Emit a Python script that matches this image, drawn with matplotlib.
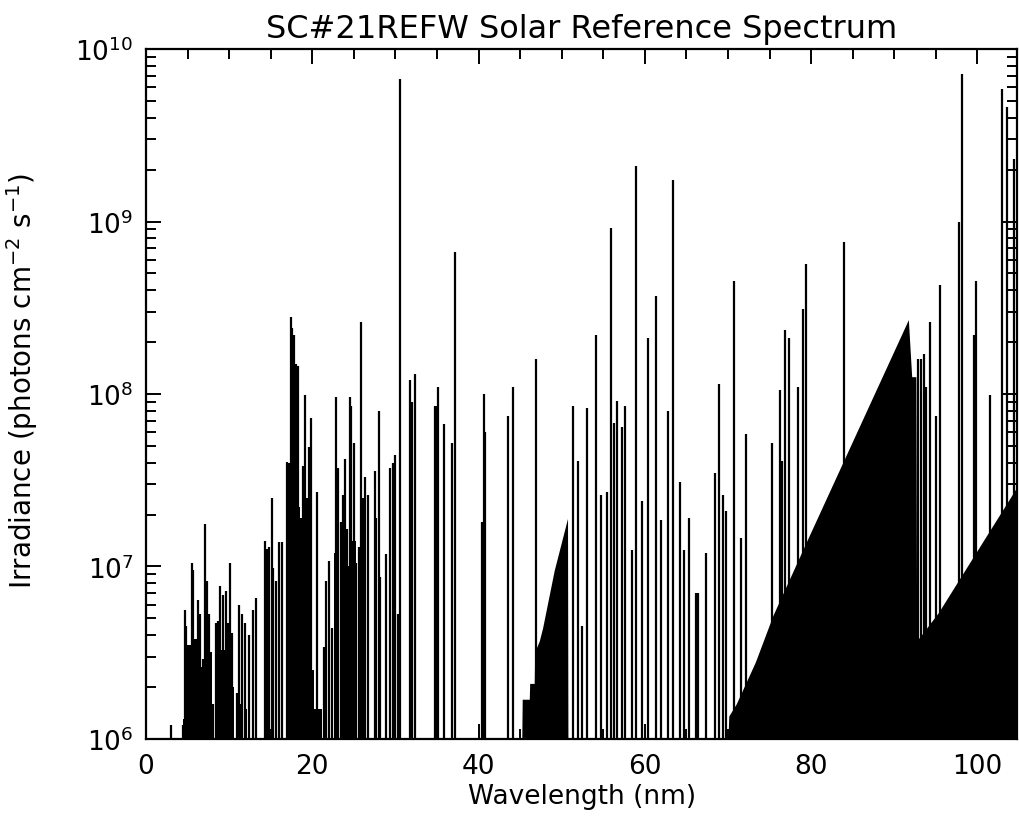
import numpy as np
import matplotlib.pyplot as plt
from matplotlib.ticker import MultipleLocator, LogLocator

# ----------------------------
# Data
# ----------------------------

# emission lines: wavelength (nm) and peak irradiance (photons cm^-2 s^-1)
line_wl = [
    3.0, 4.4, 4.7, 4.8, 5.0, 5.5, 5.7, 6.2, 6.5, 6.8, 7.1, 7.3, 7.6, 8.0,
    8.4, 8.7, 8.9, 9.2, 9.6, 9.9, 10.1, 10.4, 10.9, 11.2, 11.5, 11.9, 12.4,
    12.9, 13.2, 14.3, 14.6, 14.8, 15.1, 15.3, 15.6, 16.0, 16.3,
    17.0, 17.2, 17.4, 17.6, 17.8, 18.0, 18.3, 18.6, 18.9, 19.1, 19.4, 19.6,
    19.9, 20.6, 21.4, 21.7, 22.0, 22.4, 22.8, 23.1, 23.4, 23.7, 23.9, 24.2,
    24.5, 24.7, 25.0, 25.3, 25.6, 25.9, 26.1, 26.4, 26.7, 27.5, 27.7, 28.0,
    28.2, 28.9, 29.4, 29.7, 30.0, 30.3, 30.5,
    31.8, 32.0, 32.3, 34.8, 35.0, 35.1, 35.9, 36.8, 37.2, 40.4, 40.6, 40.8,
    43.5, 44.1, 46.9, 51.3, 52.0, 52.4, 53.0, 54.1, 54.7, 55.4, 55.9, 56.3,
    56.7, 57.3, 57.6, 58.5, 58.9, 59.6, 60.4, 61.4, 62.0, 62.8, 63.4, 64.2,
    64.7, 65.3, 66.1, 66.4, 67.4, 68.4, 68.9, 69.4, 69.8, 70.7, 71.6, 72.2,
    75.3, 76.3, 76.5, 76.9, 77.4, 78.4, 79.0, 79.4, 83.9, 92.8, 93.2, 93.6,
    93.8, 94.3, 95.0, 95.5, 97.8, 98.2, 99.6, 99.8, 101.5, 103.0, 103.6, 104.4,
]
line_flux = [
    1.2e6, 1.2e6, 5.6e6, 4.5e6, 2.1e6, 1.05e7, 9.5e6, 6.4e6, 5.3e6, 2.9e6,
    1.77e7, 8.2e6, 5.3e6, 1.6e6, 4.7e6, 4.8e6, 7.7e6, 6.8e6, 7.2e6, 4.7e6,
    1.05e7, 4.1e6, 1.85e6, 6.0e6, 5.3e6, 4.7e6, 4.0e6, 5.6e6, 6.6e6, 1.4e7,
    1.26e7, 1.3e7, 2.5e7, 9.8e6, 8.2e6, 1.38e7, 1.38e7,
    4.05e7, 4.0e7, 2.8e8, 2.4e8, 2.2e8, 1.5e8, 1.45e8, 1.9e7, 3.8e7, 9.9e7,
    2.5e7, 4.9e7, 7.3e7, 2.7e7, 3.4e6, 8.2e6, 1.07e7, 4.4e6, 9.6e7, 3.7e7,
    1.8e7, 2.6e7, 4.2e7, 1.65e7, 9.6e7, 8.5e7, 5.2e7, 1.05e7, 1.3e7, 2.6e8,
    2.5e7, 3.3e7, 2.6e7, 3.6e7, 1.9e7, 8.0e7, 8.7e6, 1.18e7, 3.7e7, 4.0e7,
    4.4e7, 5.3e6, 6.7e9,
    1.2e8, 9.0e7, 1.3e8, 8.5e7, 8.5e7, 1.1e8, 6.7e7, 5.2e7, 6.7e8, 1.8e7,
    1.0e8, 6.0e7, 7.5e7, 1.1e8, 1.6e8, 8.5e7, 4.1e7, 4.5e6, 8.3e7, 2.2e8,
    2.6e7, 2.7e7, 9.2e8, 6.8e7, 9.1e7, 6.4e7, 8.5e7, 1.25e7, 2.1e9, 2.4e7,
    2.1e8, 3.7e8, 1.87e7, 8.0e7, 1.75e9, 3.1e7, 1.25e7, 1.9e7, 7.0e6, 7.0e6,
    1.2e7, 3.5e7, 1.15e8, 2.6e7, 2.1e7, 4.5e8, 1.46e7, 5.9e7,
    5.2e7, 1.06e8, 4.1e7, 2.35e8, 2.1e8, 1.1e8, 3.1e8, 5.7e8, 7.6e8, 1.6e8,
    1.6e8, 1.7e8, 1.1e8, 2.6e8, 7.5e7, 4.3e8, 1.0e9, 7.2e9, 2.2e8, 4.5e8,
    9.9e7, 5.9e9, 4.6e9, 2.3e9,
]

# unresolved line blends (start nm, end nm, level)
blend_start = [4.4, 4.9, 5.6, 6.4, 7.0, 8.4, 9.0, 10.0, 10.8, 11.8, 16.8, 17.3,
               18.5, 19.3, 20.2, 22.6, 23.8, 24.6, 25.5]
blend_end = [4.9, 5.6, 6.4, 7.0, 7.9, 9.0, 10.0, 10.6, 11.4, 12.2, 17.3, 18.5,
             19.3, 20.2, 21.2, 23.2, 24.4, 25.2, 26.4]
blend_level = [1.3e6, 3.5e6, 3.8e6, 2.6e6, 3.2e6, 2.5e6, 3.3e6, 2.0e6, 1.6e6,
               1.5e6, 3.5e7, 2.2e7, 1.4e7, 2.5e6, 1.5e6, 1.2e7, 1.0e7, 1.4e7, 8e6]

# He I continuum
cont1_wl = [45.2, 45.25, 46.1, 46.15, 46.7, 46.75, 47.3, 47.7, 49.1, 50.7, 50.75]
cont1_val = [1e6, 1.7e6, 1.7e6, 2.1e6, 2.1e6, 3.2e6, 3.7e6, 4.4e6, 9.5e6,
             1.9e7, 1e6]

# H Lyman continuum and beyond
cont2_wl = [70.0, 70.1, 71.0, 73.3, 75.4, 79.4, 83.8, 91.7, 92.1, 92.6, 92.7,
            95.3, 106.0]
cont2_val = [1e6, 1.36e6, 1.6e6, 2.8e6, 5.2e6, 1.38e7, 4.0e7, 2.7e8, 1.26e8,
             1.26e8, 3.7e6, 5.4e6, 3.6e7]

ymin = 1e6

# ----------------------------
# Plot
# ----------------------------
plt.rcParams['font.family'] = 'DejaVu Sans'

fig = plt.figure(figsize=(10.19, 8.28), dpi=100)
ax = fig.add_axes([0.1433, 0.1063, 0.855, 0.8333])
ax.set_yscale('log')

ax.bar(blend_start, np.array(blend_level) - ymin,
       width=np.array(blend_end) - np.array(blend_start),
       bottom=ymin, align='edge', color='black', linewidth=0)
ax.fill_between(cont1_wl, ymin, cont1_val, color='black', linewidth=0)
ax.fill_between(cont2_wl, ymin, cont2_val, color='black', linewidth=0)
ax.vlines(line_wl, ymin, line_flux, color='black', linewidth=1.6)

ax.set_xlim(0, 104.8)
ax.set_ylim(1e6, 1e10)

ax.xaxis.set_major_locator(MultipleLocator(20))
ax.xaxis.set_minor_locator(MultipleLocator(5))
ax.yaxis.set_major_locator(LogLocator(base=10))
ax.yaxis.set_minor_locator(LogLocator(base=10, subs=np.arange(2, 10)))

ax.tick_params(which='both', direction='in', top=True, right=True,
               labelsize=19, width=1.4)
ax.tick_params(axis='x', pad=10)
ax.tick_params(axis='y', pad=9)
ax.tick_params(which='major', length=11)
ax.tick_params(which='minor', length=7)
for s in ax.spines.values():
    s.set_linewidth(1.6)

ax.set_xlabel('Wavelength (nm)', fontsize=19, labelpad=3)
ax.set_ylabel(r'Irradiance (photons cm$^{-2}$ s$^{-1}$)', fontsize=20)
ax.yaxis.set_label_coords(-0.122, 0.52)
ax.set_title('SC#21REFW Solar Reference Spectrum', fontsize=23, pad=9)

plt.savefig('out.png', dpi=100)
